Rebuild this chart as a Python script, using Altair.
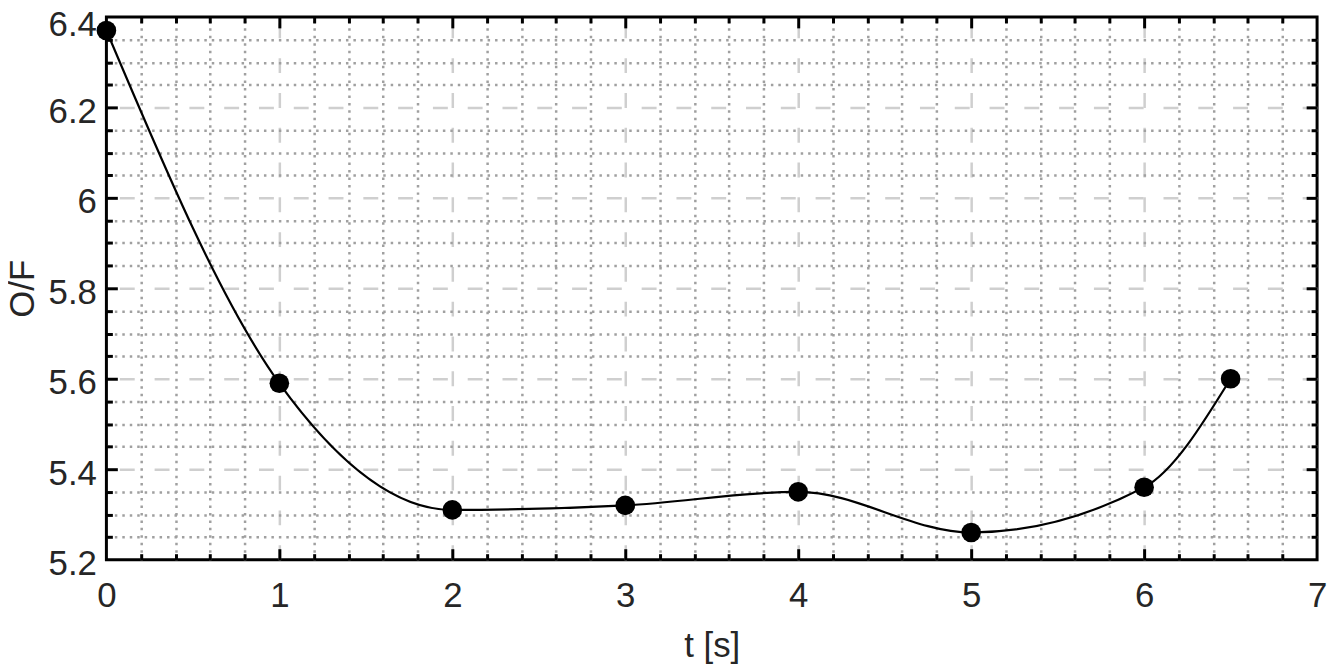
import altair as alt
import pandas as pd

# data
t_vals = [0, 1, 2, 3, 4, 5, 6, 6.5]
of_vals = [6.37, 5.59, 5.31, 5.32, 5.35, 5.26, 5.36, 5.60]

# axis tick values
x_labels = [0, 1, 2, 3, 4, 5, 6, 7]
y_labels = [5.2, 5.4, 5.6, 5.8, 6.0, 6.2, 6.4]
x_major = [1, 2, 3, 4, 5, 6]
y_major = [5.4, 5.6, 5.8, 6.0, 6.2]
x_minor = [0.2, 0.4, 0.6, 0.8, 1.2, 1.4, 1.6, 1.8, 2.2, 2.4, 2.6, 2.8,
           3.2, 3.4, 3.6, 3.8, 4.2, 4.4, 4.6, 4.8, 5.2, 5.4, 5.6, 5.8,
           6.2, 6.4, 6.6, 6.8]
y_minor = [5.25, 5.3, 5.35, 5.45, 5.5, 5.55, 5.65, 5.7, 5.75, 5.85, 5.9, 5.95,
           6.05, 6.1, 6.15, 6.25, 6.3, 6.35]

W, H = 1218, 546
FONT = "Liberation Sans"
FS = 35
TXT = "#262626"

df = pd.DataFrame({"t": t_vals, "of": of_vals})

xs = alt.Scale(domain=[0, 7], nice=False, zero=False)
ys = alt.Scale(domain=[5.2, 6.4], nice=False, zero=False)

base = alt.Chart(df)


def blank(**kw):
    d = dict(labels=False, title=None, domain=False)
    d.update(kw)
    return alt.Axis(**d)


# labels + titles
lab = base.mark_line(color="black", strokeWidth=2.2, interpolate="monotone").encode(
    x=alt.X("t:Q", scale=xs, axis=alt.Axis(
        orient="bottom", values=x_labels, title="t [s]", ticks=False, tickSize=0,
        grid=False, domain=False, labelFlush=False, labelFont=FONT, labelFontSize=FS,
        labelColor=TXT, labelPadding=19, titleFont=FONT, titleFontSize=FS,
        titleFontWeight="normal", titleColor=TXT, titleY=86, titleBaseline="middle")),
    y=alt.Y("of:Q", scale=ys, axis=alt.Axis(
        orient="left", values=y_labels, title="O/F", ticks=False, tickSize=0,
        grid=False, domain=False, format="~g", labelFlush=False, labelFont=FONT,
        labelFontSize=FS, labelColor=TXT, labelPadding=10,
        labelOffset={"condition": {"test": "datum.value > 6.35", "value": 8}, "value": 4},
        titleFont=FONT, titleFontSize=FS, titleFontWeight="normal", titleColor=TXT,
        titleX=-84, titleY=H / 2, titleBaseline="middle", titleAngle=270)),
)

grid_major = base.mark_point(opacity=0).encode(
    x=alt.X("t:Q", scale=xs, axis=blank(orient="top", offset=-H, values=x_major,
                                         tickSize=11, tickWidth=3, tickColor="black",
                                         grid=True, gridColor="#cfcfcf", gridWidth=2.5,
                                         gridDash=[15, 20])),
    y=alt.Y("of:Q", scale=ys, axis=blank(orient="right", offset=-W, values=y_major,
                                          tickSize=11, tickWidth=3, tickColor="black",
                                          grid=True, gridColor="#cfcfcf", gridWidth=2.5,
                                          gridDash=[15, 20])),
)

minor = base.mark_point(opacity=0).encode(
    x=alt.X("t:Q", scale=xs, axis=blank(orient="top", offset=-H, values=x_minor,
                                         tickSize=6, tickWidth=3, tickColor="black",
                                         grid=True, gridColor="#a0a0a0", gridWidth=2.5,
                                         gridDash=[2.5, 5])),
    y=alt.Y("of:Q", scale=ys, axis=blank(orient="right", offset=-W, values=y_minor,
                                          tickSize=6, tickWidth=3, tickColor="black",
                                          grid=True, gridColor="#a0a0a0", gridWidth=2.5,
                                          gridDash=[2.5, 5])),
)

top_major = base.mark_point(opacity=0).encode(
    x=alt.X("t:Q", scale=xs, axis=blank(orient="bottom", offset=-H, values=x_major,
                                         tickSize=11, tickWidth=3, tickColor="black",
                                         grid=False)),
    y=alt.Y("of:Q", scale=ys, axis=blank(orient="left", offset=-W, values=y_major,
                                          tickSize=11, tickWidth=3, tickColor="black",
                                          grid=False)),
)

top_minor = base.mark_point(opacity=0).encode(
    x=alt.X("t:Q", scale=xs, axis=blank(orient="bottom", offset=-H, values=x_minor,
                                         tickSize=6, tickWidth=3, tickColor="black",
                                         grid=False)),
    y=alt.Y("of:Q", scale=ys, axis=blank(orient="left", offset=-W, values=y_minor,
                                          tickSize=6, tickWidth=3, tickColor="black",
                                          grid=False)),
)

pts = base.mark_circle(color="black", size=390, opacity=1).encode(
    x=alt.X("t:Q", scale=xs, axis=None),
    y=alt.Y("of:Q", scale=ys, axis=None),
)

chart = alt.layer(minor, grid_major, top_major, top_minor, lab, pts).resolve_axis(
    x="independent", y="independent"
).properties(
    width=W, height=H,
    autosize=alt.AutoSizeParams(type="none"),
    padding={"left": 99, "top": 7, "right": 13, "bottom": 105},
    background="white",
).configure_view(stroke="black", strokeWidth=3)

chart.save("out.html", embed_options={"renderer": "svg", "actions": False})
